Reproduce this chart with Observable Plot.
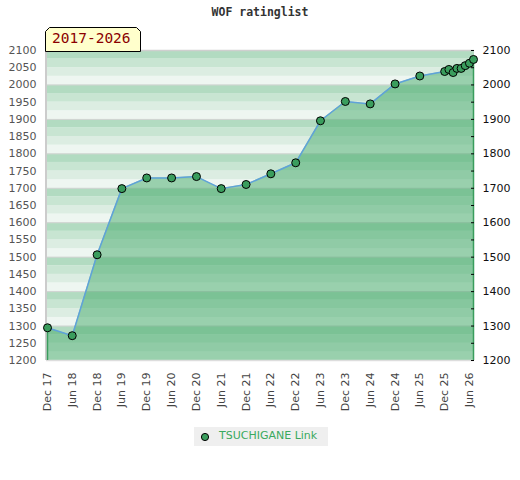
<!DOCTYPE html>
<html><head><meta charset="utf-8">
<script src="https://cdn.jsdelivr.net/npm/d3@7"></script>
<script src="https://cdn.jsdelivr.net/npm/@observablehq/plot@0.6"></script>
<style>
body{margin:0;background:#fff;}
#wrap{position:relative;width:520px;height:480px;font-family:"DejaVu Sans",sans-serif;}
#chart{position:absolute;left:0;top:0;}
#title{position:absolute;left:0;top:5px;width:520px;text-align:center;font:bold 11.5px "DejaVu Sans Mono",monospace;color:#333;}
#badge{position:absolute;left:45px;top:27px;width:96px;height:25px;}
#badge svg{position:absolute;left:0;top:0;}
#badge span{position:absolute;left:7px;top:3px;font:14.5px "DejaVu Sans Mono",monospace;color:#8b0000;white-space:nowrap;}
#legend{position:absolute;left:194px;top:427px;width:134px;height:19px;background:#efefef;}
#legend svg{position:absolute;left:6px;top:5px;}
#legend span{position:absolute;left:25px;top:2px;font:11px "DejaVu Sans",sans-serif;color:#3aaa5e;white-space:nowrap;}
</style></head>
<body>
<div id="wrap">
  <div id="chart"></div>
  <div id="title">WOF ratinglist</div>
  <div id="badge"><svg width="96" height="25"><polygon points="0.5,24.5 0.5,4.5 4.5,0.5 91.5,0.5 95.5,4.5 95.5,24.5" fill="#ffffcc" stroke="#000" stroke-width="1"/></svg><span>2017-2026</span></div>
  <div id="legend"><svg width="10" height="10"><circle cx="5" cy="5" r="3.6" fill="#3a9d5d" stroke="#000" stroke-width="1"/></svg><span>TSUCHIGANE Link</span></div>
</div>
<script>
// ---- data ----
const dates = ["2017-12","2018-06","2018-12","2019-06","2019-12","2020-06","2020-12","2021-06","2021-12","2022-06","2022-12","2023-06","2023-12","2024-06","2024-12","2025-06","2025-12","2026-01","2026-02","2026-03","2026-04","2026-05","2026-06","2026-07"];
const ratings = [1295,1272,1507,1699,1730,1730,1734,1699,1711,1742,1774,1896,1952,1945,2003,2026,2039,2045,2036,2048,2048,2056,2063,2074];
const tickDates = ["2017-12","2018-06","2018-12","2019-06","2019-12","2020-06","2020-12","2021-06","2021-12","2022-06","2022-12","2023-06","2023-12","2024-06","2024-12","2025-06","2025-12","2026-06"];
const yMin = 1200, yMax = 2100;
const seriesName = "TSUCHIGANE Link";

// ---- styles ----
const stripeColors = ["#eef6f1","#dcede2","#c8e5d2","#b2dbc1"];
const areaColor = "#43aa6a";
const lineColor = "#5fa2d9";
const dotColor = "#3a9d5d";
const edgeColor = "#3a9d5d";

const parse = d3.utcParse("%Y-%m");
const rows = dates.map((d, i) => ({date: parse(d), rating: ratings[i]}));
const ticks = tickDates.map(parse);
const bands = d3.range(yMin, yMax, 25);
const fmt = d3.format("d");

const chart = Plot.plot({
  width: 520,
  height: 480,
  marginLeft: 47,
  marginRight: 47,
  marginTop: 50,
  marginBottom: 120,
  style: {fontFamily: "DejaVu Sans, sans-serif", fontSize: "11px", background: "transparent"},
  x: {type: "utc", domain: [rows[0].date, rows[rows.length - 1].date]},
  y: {domain: [yMin, yMax]},
  marks: [
    Plot.rect(bands, {y1: d => d, y2: d => d + 25, fill: d => stripeColors[((d - yMin) / 25) % 4], insetLeft: -1, insetRight: -1}),
    Plot.ruleY(d3.range(yMin + 100, yMax, 100), {stroke: "#d4d4d4", strokeWidth: 1}),
    Plot.areaY(rows, {x: "date", y1: yMin, y2: "rating", fill: areaColor, fillOpacity: 0.5}),
    Plot.ruleY([yMax], {stroke: "#cfcfcf", strokeWidth: 1.5, insetLeft: -1, insetRight: -1}),
    Plot.ruleY([yMin], {stroke: "#dddddd", strokeWidth: 1.5, insetLeft: -1, insetRight: -1}),
    Plot.ruleX([rows[0].date], {stroke: "#cccccc", strokeWidth: 2, dx: -1.5}),
    Plot.ruleX([rows[0], rows[rows.length - 1]], {x: "date", y1: yMin, y2: "rating", stroke: edgeColor, strokeWidth: 1.5}),
    Plot.line(rows, {x: "date", y: "rating", stroke: lineColor, strokeWidth: 1.5}),
    Plot.dot(rows, {x: "date", y: "rating", r: 4, fill: dotColor, stroke: "#000", strokeWidth: 1}),
    Plot.axisY({anchor: "left", ticks: d3.range(yMin, yMax + 1, 50), tickFormat: fmt, tickSize: 0, tickPadding: 11, color: "#555", label: null}),
    Plot.axisY({anchor: "right", ticks: d3.range(yMin, yMax + 1, 50), tickSize: 3, dx: -3, tickFormat: () => "", color: "#000", label: null}),
    Plot.axisY({anchor: "right", ticks: d3.range(yMin, yMax + 1, 100), tickFormat: fmt, tickSize: 0, tickPadding: 9, color: "#111", label: null}),
    Plot.axisX({ticks: ticks, tickFormat: d3.utcFormat("%b %y"), tickRotate: -90, tickSize: 0, tickPadding: 12, color: "#444", label: null})
  ]
});
document.getElementById("chart").appendChild(chart);
</script>
</body></html>
